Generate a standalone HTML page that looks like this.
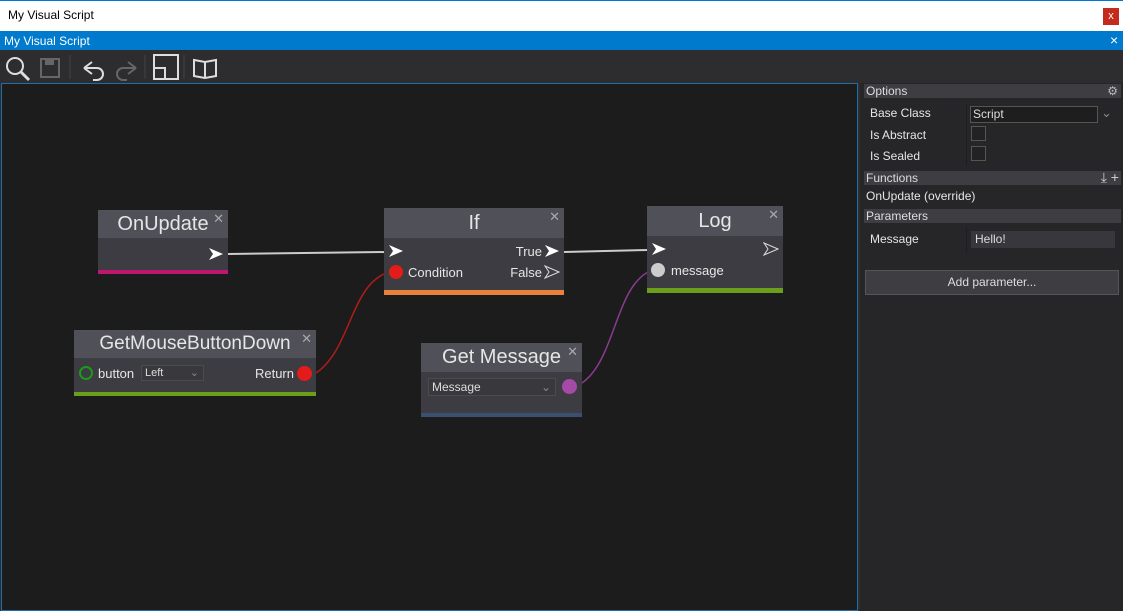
<!DOCTYPE html>
<html><head><style>
*{margin:0;padding:0;box-sizing:border-box}
body{width:1123px;height:611px;overflow:hidden;background:#2d2d30;font-family:"Liberation Sans",sans-serif;position:relative}
.a{position:absolute}
.node{position:absolute;background:#3c3c42}
.hd{position:absolute;left:0;right:0;top:0;background:#505058;color:#e6e6e6;text-align:center;font-size:20px}
.x{position:absolute;right:4px;top:1px;color:#aaa;font-size:13px}
.t{position:absolute;color:#e6e6e6;font-size:13px}
.p{position:absolute;color:#e6e6e6;font-size:12px}
.sh{position:absolute;left:864px;width:257px;height:14px;background:#3e3e42;color:#ddd;font-size:12px;padding-left:2px;line-height:14px}
</style></head><body>
<div class="a" style="left:0;top:0;width:1123px;height:31px;background:#fff;border-top:1px solid #0078d7"></div>
<div class="a" style="left:8px;top:8px;font-size:12px;color:#000">My Visual Script</div>
<div class="a" style="left:1103px;top:8px;width:16px;height:17px;background:#c42b1c;color:#fff;font-size:11px;text-align:center;line-height:16px">x</div>
<div class="a" style="left:0;top:31px;width:1123px;height:19px;background:#007acc"></div>
<div class="a" style="left:4px;top:34px;font-size:12px;color:#fff">My Visual Script</div>
<div class="a" style="left:1110px;top:32px;font-size:14px;color:#fff">×</div>
<svg class="a" style="left:0;top:50px" width="230" height="33">
<circle cx="15" cy="16" r="8" fill="none" stroke="#ddd" stroke-width="2"/><line x1="21" y1="22" x2="29" y2="30" stroke="#ddd" stroke-width="3"/>
<rect x="41" y="9" width="18" height="18" fill="none" stroke="#666" stroke-width="2"/><rect x="45" y="9" width="9" height="6" fill="#666"/>
<line x1="70" y1="5" x2="70" y2="29" stroke="#444"/>
<path d="M84 18 L92 12 M84 18 L92 24 M84 18 H97 a6 6 0 0 1 0 12 h-4" fill="none" stroke="#ddd" stroke-width="2"/>
<path d="M136 18 L128 12 M136 18 L128 24 M136 18 H123 a6 6 0 0 0 0 12 h4" fill="none" stroke="#666" stroke-width="2"/>
<line x1="145" y1="5" x2="145" y2="29" stroke="#444"/>
<rect x="154" y="5" width="24" height="24" fill="none" stroke="#ddd" stroke-width="2"/><rect x="154" y="18" width="11" height="11" fill="none" stroke="#ddd" stroke-width="2"/>
<line x1="184" y1="5" x2="184" y2="29" stroke="#444"/>
<path d="M194 10 v16 l11 2 l11 -2 v-16 l-11 2z M205 12 v16" fill="none" stroke="#ddd" stroke-width="2"/>
</svg>
<div class="a" style="left:1px;top:83px;width:857px;height:528px;background:#1c1c1c;border:1px solid #1f6ea8"></div>
<svg class="a" style="left:0;top:0" width="860" height="611">
<line x1="228" y1="254" x2="386" y2="252" stroke="#ccc" stroke-width="2"/>
<line x1="564" y1="252" x2="648" y2="250" stroke="#ccc" stroke-width="2"/>
<path d="M316 373 C350 350,350 290,384 274" fill="none" stroke="#b01c1c" stroke-width="1.5"/>
<path d="M582 383 C615 360,615 290,648 272" fill="none" stroke="#8a3a90" stroke-width="1.5"/>
</svg>
<!-- OnUpdate -->
<div class="node" style="left:98px;top:210px;width:130px;height:64px;border-bottom:4px solid #c0166e"><div class="hd" style="height:28px;line-height:28px">OnUpdate</div><div class="x">✕</div>
<svg class="a" style="left:110px;top:37px" width="16" height="14"><path d="M1 1 L15 7 L1 13 L5 7z" fill="#fff"/></svg></div>
<!-- If -->
<div class="node" style="left:384px;top:208px;width:180px;height:87px;border-bottom:5px solid #e8823a"><div class="hd" style="height:30px;line-height:30px">If</div><div class="x">✕</div>
<svg class="a" style="left:4px;top:36px" width="16" height="14"><path d="M1 1 L15 7 L1 13 L5 7z" fill="#fff"/></svg>
<div class="a" style="left:5px;top:57px;width:14px;height:14px;border-radius:50%;background:#e41b1b"></div>
<div class="t" style="left:24px;top:57px">Condition</div>
<div class="t" style="right:22px;top:36px">True</div>
<div class="t" style="right:22px;top:57px">False</div>
<svg class="a" style="right:4px;top:36px" width="16" height="14"><path d="M1 1 L15 7 L1 13 L5 7z" fill="#fff"/></svg>
<svg class="a" style="right:4px;top:57px" width="16" height="14"><path d="M1 1 L15 7 L1 13 L5 7z" fill="none" stroke="#ddd"/></svg></div>
<!-- Log -->
<div class="node" style="left:647px;top:206px;width:136px;height:87px;border-bottom:5px solid #6b9e1a"><div class="hd" style="height:30px;line-height:30px">Log</div><div class="x">✕</div>
<svg class="a" style="left:4px;top:36px" width="16" height="14"><path d="M1 1 L15 7 L1 13 L5 7z" fill="#fff"/></svg>
<svg class="a" style="right:4px;top:36px" width="16" height="14"><path d="M1 1 L15 7 L1 13 L5 7z" fill="none" stroke="#ddd"/></svg>
<div class="a" style="left:4px;top:57px;width:14px;height:14px;border-radius:50%;background:#ccc"></div>
<div class="t" style="left:24px;top:57px">message</div></div>
<!-- GetMouseButtonDown -->
<div class="node" style="left:74px;top:330px;width:242px;height:66px;border-bottom:4px solid #6b9e1a"><div class="hd" style="height:28px;line-height:28px;font-size:19px">GetMouseButtonDown</div><div class="x">✕</div>
<div class="a" style="left:5px;top:36px;width:14px;height:14px;border-radius:50%;border:2px solid #1a9a1a"></div>
<div class="t" style="left:24px;top:36px">button</div>
<div class="a" style="left:67px;top:35px;width:63px;height:16px;border:1px solid #4a4a50;background:#38383d;color:#ddd;font-size:11px;padding-left:3px;line-height:14px">Left<span style="position:absolute;right:4px;color:#888">⌄</span></div>
<div class="t" style="right:22px;top:36px">Return</div>
<div class="a" style="right:4px;top:36px;width:15px;height:15px;border-radius:50%;background:#e41b1b"></div></div>
<!-- Get Message -->
<div class="node" style="left:421px;top:343px;width:161px;height:74px;border-bottom:4px solid #3a5070"><div class="hd" style="height:29px;line-height:29px">Get Message</div><div class="x">✕</div>
<div class="a" style="left:7px;top:35px;width:128px;height:18px;border:1px solid #4a4a50;background:#38383d;color:#ddd;font-size:12px;padding-left:3px;line-height:16px">Message<span style="position:absolute;right:4px;color:#888">⌄</span></div>
<div class="a" style="left:141px;top:36px;width:15px;height:15px;border-radius:50%;background:#a64aa8"></div></div>
<!-- right panel -->
<div class="a" style="left:860px;top:83px;width:263px;height:528px;background:#262628"></div>
<div class="sh" style="top:84px">Options<span style="position:absolute;right:3px;color:#bbb">⚙</span></div>
<div class="p" style="left:870px;top:106px">Base Class</div>
<div class="p" style="left:870px;top:128px">Is Abstract</div>
<div class="p" style="left:870px;top:149px">Is Sealed</div>
<div class="a" style="left:966px;top:104px;width:1px;height:62px;background:#1e1e1e"></div>
<div class="a" style="left:970px;top:106px;width:128px;height:17px;border:1px solid #555;background:#1e1e1e;color:#ddd;font-size:12px;padding-left:2px;line-height:15px">Script</div>
<div class="a" style="left:1101px;top:105px;color:#888;font-size:13px">⌄</div>
<div class="a" style="left:971px;top:126px;width:15px;height:15px;border:1px solid #555;background:#222"></div>
<div class="a" style="left:971px;top:146px;width:15px;height:15px;border:1px solid #555;background:#222"></div>
<div class="sh" style="top:171px">Functions<span style="position:absolute;right:2px;color:#ccc;font-size:14px;line-height:13px">⤓ +</span></div>
<div class="p" style="left:866px;top:189px">OnUpdate (override)</div>
<div class="sh" style="top:209px">Parameters</div>
<div class="p" style="left:870px;top:232px">Message</div>
<div class="a" style="left:966px;top:227px;width:1px;height:26px;background:#1e1e1e"></div>
<div class="a" style="left:971px;top:231px;width:144px;height:17px;background:#38383c;color:#ddd;font-size:12px;padding-left:4px;line-height:17px">Hello!</div>
<div class="a" style="left:865px;top:270px;width:254px;height:25px;background:#3e3e42;border:1px solid #555;color:#ddd;font-size:12px;text-align:center;line-height:23px">Add parameter...</div>
</body></html>
